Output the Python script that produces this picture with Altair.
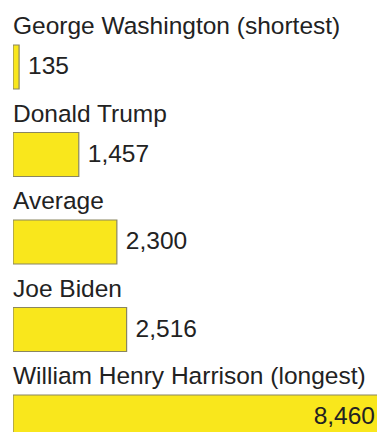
import altair as alt
import pandas as pd

names = [
    "George Washington (shortest)",
    "Donald Trump",
    "Average",
    "Joe Biden",
    "William Henry Harrison (longest)",
]
words = [135, 1457, 2300, 2516, 8460]
labels = ["135", "1,457", "2,300", "2,516", "8,460"]

df = pd.DataFrame({"name": names, "words": words, "label": labels})

FONT = "Liberation Sans"
FS = 24.5
W = 364
H = 424
STEP = 87.5

y = alt.Y("name:N", sort=names, axis=None,
          scale=alt.Scale(range=[0, STEP * len(names)], paddingInner=0, paddingOuter=0))
x = alt.X("words:Q", axis=None, scale=alt.Scale(domain=[0, 8460], range=[0, 382], nice=False))

base = alt.Chart(df)

bars = base.mark_bar(height=44, yOffset=15.25, color="#f9e71c", stroke="#8a8660",
                     strokeWidth=1.2, clip=True).encode(x=x, y=y)

names_t = base.mark_text(align="left", baseline="alphabetic", dy=-17.75, fontSize=FS,
                         font=FONT, color="#222222").encode(
    x=alt.value(0), y=y, text="name:N")

vals_out = base.transform_filter("datum.words < 5000").mark_text(
    align="left", baseline="middle", dx=9, dy=15.25, fontSize=FS, font=FONT,
    color="#222222").encode(x=x, y=y, text="label:N")

vals_in = base.transform_filter("datum.words >= 5000").mark_text(
    align="right", baseline="middle", dx=-20, dy=15.25, fontSize=FS, font=FONT,
    color="#222222").encode(x=x, y=y, text="label:N")

chart = alt.layer(bars, names_t, vals_out, vals_in).properties(
    width=W, height=H,
    autosize=alt.AutoSizeParams(type="none"),
    padding={"left": 5, "top": 0, "right": 0, "bottom": 0},
).configure_view(stroke=None)

chart.save("out.html", embed_options={"renderer": "svg", "actions": False})
